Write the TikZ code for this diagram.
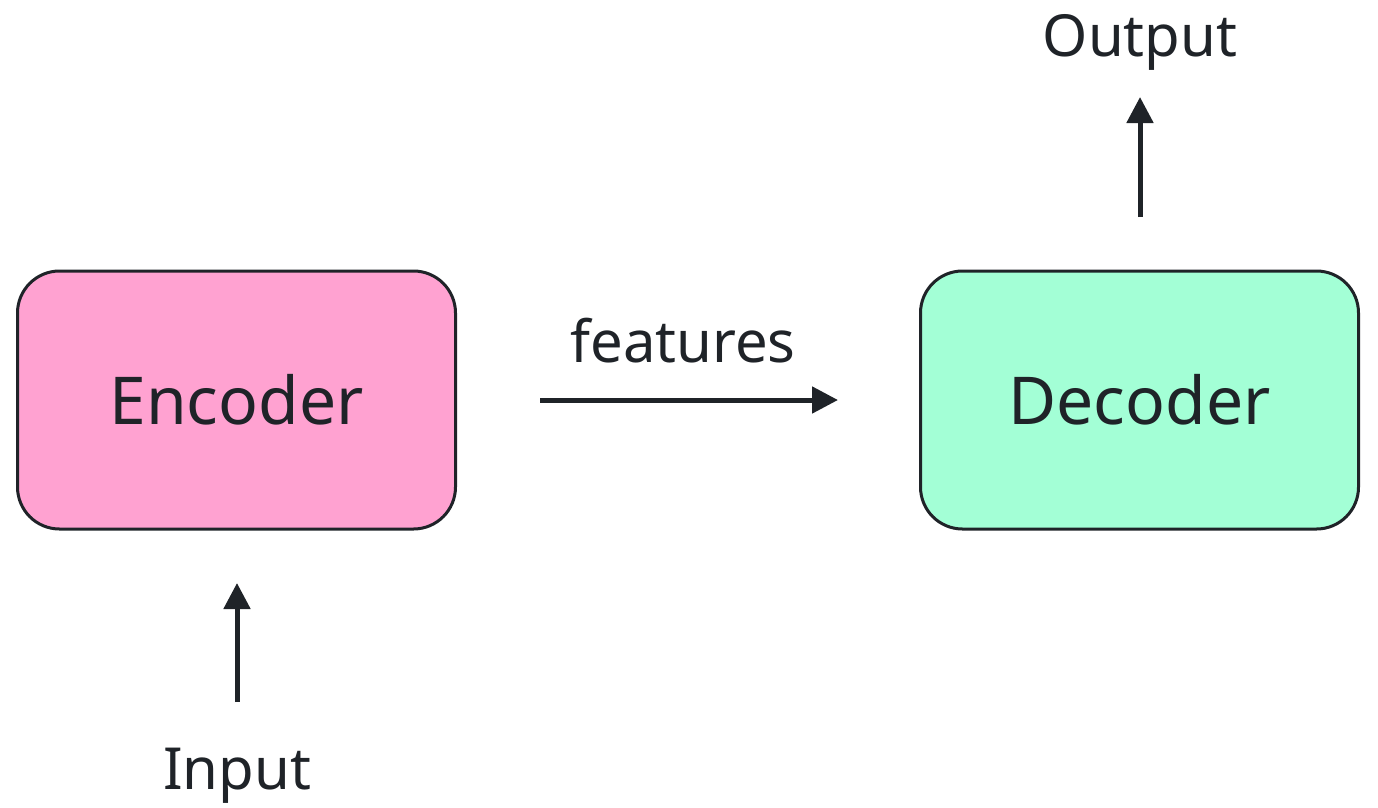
\documentclass[tikz,border=0pt]{standalone}
\usepackage{fontspec}
\setmainfont{Noto Sans}
\usetikzlibrary{arrows.meta}
\definecolor{encfill}{HTML}{FFA2D1}
\definecolor{decfill}{HTML}{A3FFD6}
\definecolor{ink}{HTML}{1F2328}
\begin{document}
\begin{tikzpicture}[x=1pt,y=-1pt,
  block/.style={draw=ink,line width=3pt,rounded corners=42pt,minimum width=438pt,minimum height=258pt,inner sep=0pt,font=\fontsize{66}{70}\selectfont,text=ink},
  lbl/.style={font=\fontsize{58}{62}\selectfont,text=ink,inner sep=0pt},
  arr/.style={draw=ink,line width=5pt,-{Triangle[length=26pt,width=26pt]}}]
\useasboundingbox (0,0) rectangle (1378,807);
\node[block,fill=encfill] (enc) at (236.5,400) {Encoder};
\node[block,fill=decfill] (dec) at (1139.5,400) {Decoder};
\coordinate (fs) at (540,400);
\coordinate (fe) at (838,400);
\draw[arr] (fs) -- (fe);
\node[lbl,anchor=base] (feat) at (683,362) {features};
\coordinate (is) at (237,702);
\coordinate (ie) at (237,583);
\draw[arr] (is) -- (ie);
\node[lbl,anchor=base] (inp) at (237,789) {Input};
\coordinate (os) at (1140,217);
\coordinate (oe) at (1140,97);
\draw[arr] (os) -- (oe);
\node[lbl,anchor=base] (out) at (1140,56) {Output};
\end{tikzpicture}
\end{document}
